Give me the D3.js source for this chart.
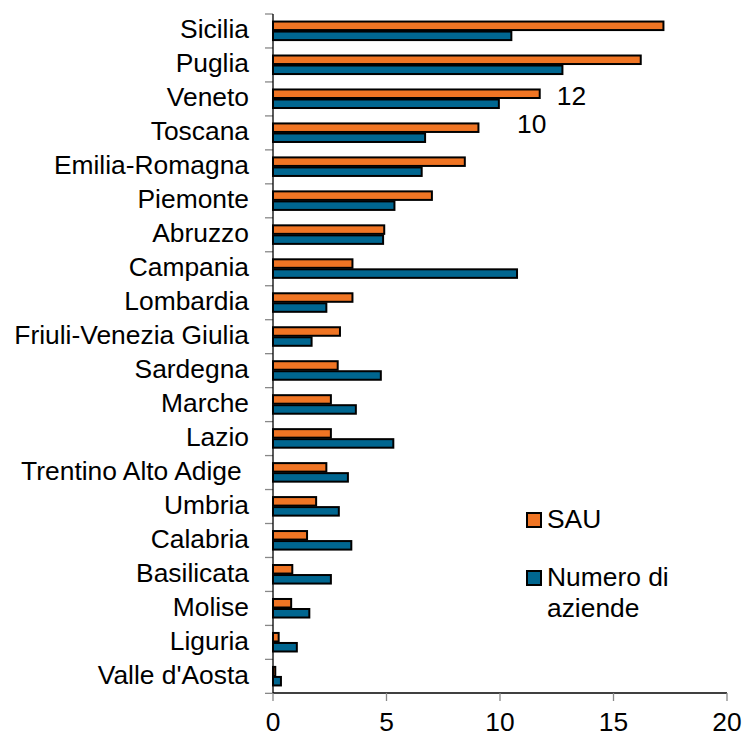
<!DOCTYPE html>
<html>
<head>
<meta charset="utf-8">
<script src="https://cdn.jsdelivr.net/npm/d3@7"></script>
<style>
  body { margin: 0; background: #fff; }
  text { font-family: "Liberation Sans", Arial, sans-serif; fill: #000; }
</style>
</head>
<body>
<div id="chart"></div>
<script>
// data
var regions = ["Sicilia", "Puglia", "Veneto", "Toscana", "Emilia-Romagna", "Piemonte", "Abruzzo",
  "Campania", "Lombardia", "Friuli-Venezia Giulia", "Sardegna", "Marche", "Lazio",
  "Trentino Alto Adige ", "Umbria", "Calabria", "Basilicata", "Molise", "Liguria", "Valle d'Aosta"];
var sau = [17.2, 16.2, 11.75, 9.05, 8.45, 7.0, 4.9, 3.5, 3.5, 2.95, 2.85, 2.55, 2.55,
  2.35, 1.9, 1.5, 0.85, 0.8, 0.25, 0.1];
var aziende = [10.5, 12.75, 9.95, 6.7, 6.55, 5.35, 4.85, 10.75, 2.35, 1.7, 4.75, 3.65, 5.3,
  3.3, 2.9, 3.45, 2.55, 1.6, 1.05, 0.35];
var seriesNames = ["SAU", "Numero di aziende"];
var xTicks = [0, 5, 10, 15, 20];
var strayLabels = ["12", "10"];

var W = 744, H = 737;
var margin = { top: 14, right: 17, bottom: 44, left: 273 };
var colors = ["#f07524", "#006690"];
var fontSize = 26.4;

var svg = d3.select("#chart").append("svg")
  .attr("width", W)
  .attr("height", H);

var x = d3.scaleLinear().domain([0, 20]).range([margin.left, W - margin.right]);
var y = d3.scaleBand().domain(regions).range([margin.top, H - margin.bottom]).paddingInner(0.41).paddingOuter(0.2);
var yStep = y.step();
var sub = d3.scaleBand().domain([0, 1]).range([0, y.bandwidth()]);

// bars
var rows = regions.map(function (r, i) { return { region: r, values: [sau[i], aziende[i]] }; });
var g = svg.selectAll(".row").data(rows).enter().append("g")
  .attr("class", "row")
  .attr("transform", function (d) { return "translate(0," + y(d.region) + ")"; });

g.selectAll("rect").data(function (d) { return d.values; }).enter().append("rect")
  .attr("x", x(0))
  .attr("y", function (d, i) { return sub(i) + 0.75; })
  .attr("width", function (d) { return x(d) - x(0); })
  .attr("height", sub.bandwidth() - 1.5)
  .style("fill", function (d, i) { return colors[i]; })
  .style("stroke", "#000")
  .style("stroke-width", 2);

// category axis: ticks on band boundaries
var yLeft = svg.append("g");
yLeft.selectAll("line.tick").data(d3.range(regions.length + 1)).enter().append("line")
  .attr("x1", margin.left - 8).attr("x2", margin.left)
  .attr("y1", function (i) { return margin.top + i * yStep; })
  .attr("y2", function (i) { return margin.top + i * yStep; })
  .style("stroke", "#888").style("stroke-width", 1.3);
yLeft.append("line")
  .attr("x1", margin.left).attr("x2", margin.left)
  .attr("y1", margin.top).attr("y2", H - margin.bottom)
  .style("stroke", "#000").style("stroke-width", 1.3);
yLeft.selectAll("text").data(regions).enter().append("text")
  .attr("x", margin.left - 24)
  .attr("y", function (d) { return y(d) + y.bandwidth() / 2 + 7.5; })
  .attr("text-anchor", "end")
  .style("white-space", "pre")
  .style("font-size", fontSize + "px")
  .text(function (d) { return d; });

// value axis
var xAxis = svg.append("g");
xAxis.append("line")
  .attr("x1", margin.left).attr("x2", W - margin.right)
  .attr("y1", H - margin.bottom).attr("y2", H - margin.bottom)
  .style("stroke", "#000").style("stroke-width", 1.3);
xAxis.selectAll("line.tick").data(xTicks).enter().append("line")
  .attr("x1", function (d) { return x(d); }).attr("x2", function (d) { return x(d); })
  .attr("y1", H - margin.bottom).attr("y2", H - margin.bottom + 8)
  .style("stroke", "#888").style("stroke-width", 1.3);
xAxis.selectAll("text").data(xTicks).enter().append("text")
  .attr("x", function (d) { return x(d); })
  .attr("y", H - 6)
  .attr("text-anchor", "middle")
  .style("font-size", fontSize + "px")
  .text(function (d) { return d; });

// stray data labels from the original
svg.append("text")
  .attr("x", x(12.5)).attr("y", y("Veneto") + y.bandwidth() / 2 + 6)
  .style("font-size", fontSize + "px").text(strayLabels[0]);
svg.append("text")
  .attr("x", x(10.75)).attr("y", y("Toscana") + y.bandwidth() / 2 + 0.5)
  .style("font-size", fontSize + "px").text(strayLabels[1]);

// legend
var legend = svg.append("g").attr("transform", "translate(527,513)");
var lg = legend.selectAll("g").data(seriesNames).enter().append("g")
  .attr("transform", function (d, i) { return "translate(0," + i * 58 + ")"; });
lg.append("rect")
  .attr("width", 14).attr("height", 14)
  .style("fill", function (d, i) { return colors[i]; })
  .style("stroke", "#000").style("stroke-width", 2);
lg.append("text")
  .attr("x", 20)
  .attr("y", 14.5)
  .style("font-size", fontSize + "px")
  .each(function (d) {
    var words = d === "Numero di aziende" ? ["Numero di", "aziende"] : [d];
    var t = d3.select(this);
    words.forEach(function (w, k) {
      t.append("tspan").attr("x", 20).attr("dy", k === 0 ? 0 : 31).text(w);
    });
  });
</script>
</body>
</html>
